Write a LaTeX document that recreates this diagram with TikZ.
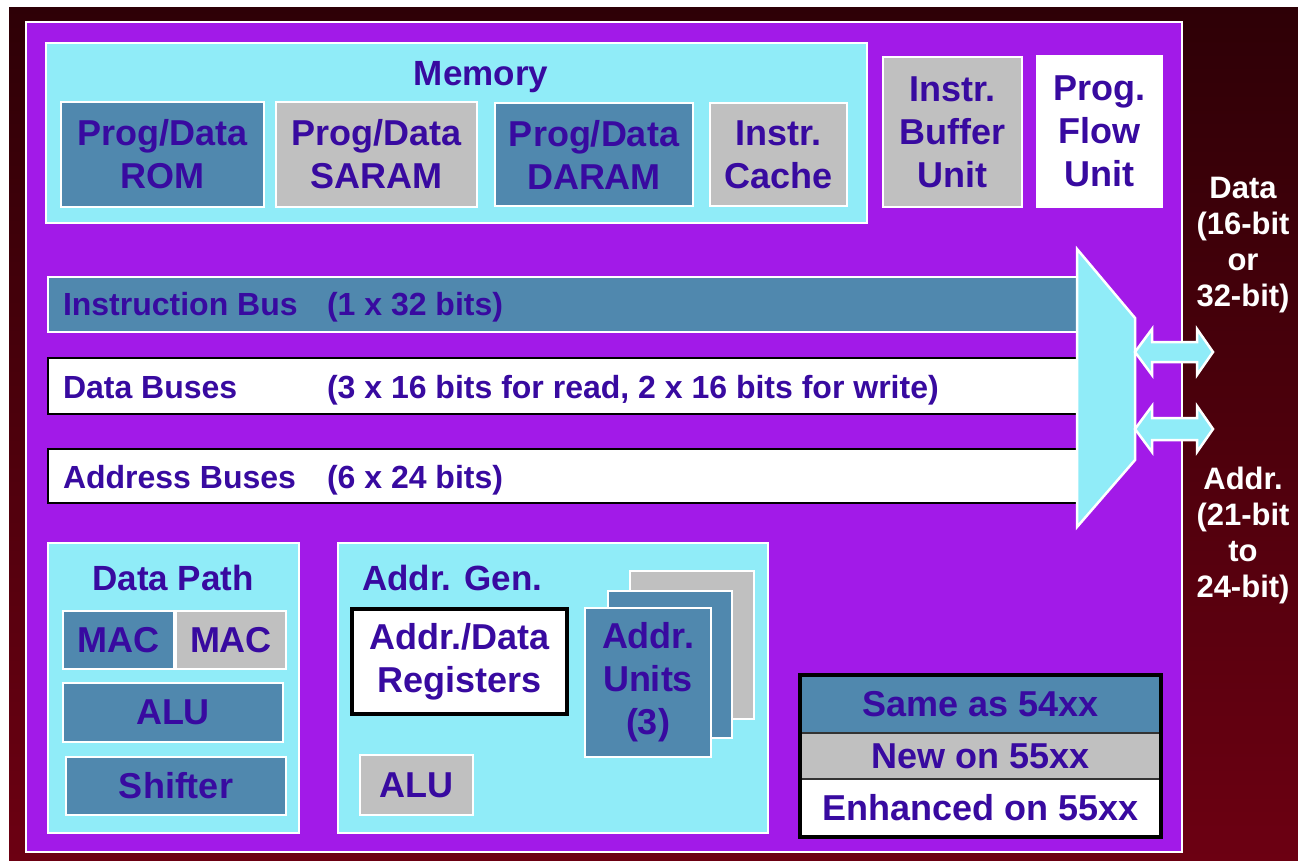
\documentclass[tikz,border=0pt]{standalone}
\usepackage{fontspec}
\setmainfont{Liberation Sans}
\usetikzlibrary{calc}
\definecolor{maroonA}{RGB}{46,0,6}
\definecolor{maroonB}{RGB}{108,0,18}
\definecolor{panel}{RGB}{162,26,232}
\definecolor{cyanL}{RGB}{144,236,248}
\definecolor{steel}{RGB}{80,136,174}
\definecolor{grayL}{RGB}{192,192,192}
\definecolor{ink}{RGB}{56,10,160}
\begin{document}
\begin{tikzpicture}[x=1pt,y=-1pt,
  every node/.style={inner sep=0pt, outer sep=0pt},
  blk/.style={draw=white, line width=2.5pt, anchor=north west, align=center, text=ink,
    font=\bfseries\fontsize{36}{43}\selectfont},
  steelbox/.style={blk, fill=steel},
  graybox/.style={blk, fill=grayL},
  whitebox/.style={blk, fill=white},
  regbox/.style={blk, fill=white, draw=black, line width=3.5pt},
  group/.style={draw=white, line width=2.5pt, fill=cyanL, anchor=north west},
  title/.style={text=ink, font=\bfseries\fontsize{35}{42}\selectfont},
  busbar/.style={anchor=north west, line width=2.5pt},
  bustext/.style={text=ink, font=\bfseries\fontsize{32}{38}\selectfont, anchor=base west},
  side/.style={text=white, font=\bfseries\fontsize{31}{36}\selectfont, align=center},
  legrow/.style={anchor=north west, draw=black!80, line width=1.5pt, text=ink,
    minimum width=361pt, font=\bfseries\fontsize{36}{43}\selectfont},
  fat/.style={fill=cyanL, draw=white, line width=2.5pt, line join=miter}
]
\useasboundingbox (0,0) rectangle (1298,860);
\fill[white] (0,0) rectangle (1298,860);
\shade[top color=maroonA, bottom color=maroonB] (9,7) rectangle (1298,860);

% main panel
\node[anchor=north west, fill=panel, draw=white, line width=2pt,
  minimum width=1156pt, minimum height=830pt] (panel) at (26,22) {};

% memory group
\node[group, minimum width=821pt, minimum height=180pt] (memory) at (46,43) {};
\node[title, anchor=base] (memt) at (481,85) {Memory};
\node[steelbox, minimum width=203pt, minimum height=105pt] (rom) at (61,102) {Prog/Data\\ROM};
\node[graybox, minimum width=201pt, minimum height=105pt] (saram) at (276,102) {Prog/Data\\SARAM};
\node[steelbox, minimum width=198pt, minimum height=103pt] (daram) at (495,103) {Prog/Data\\DARAM};
\node[graybox, minimum width=137pt, minimum height=103pt] (cache) at (710,103) {Instr.\\Cache};
\node[graybox, minimum width=139pt, minimum height=150pt] (ibu) at (883,57) {Instr.\\Buffer\\Unit};
\node[whitebox, minimum width=125pt, minimum height=151pt] (pfu) at (1037,56) {Prog.\\Flow\\Unit};

% buses
\node[busbar, fill=steel, draw=white, minimum width=1032pt, minimum height=55pt] (ibus) at (48,277) {};
\node[busbar, fill=white, draw=black, minimum width=1032pt, minimum height=56pt] (dbus) at (48,358) {};
\node[busbar, fill=white, draw=black, minimum width=1032pt, minimum height=54pt] (abus) at (48,449) {};
\node[bustext] (ibt1) at (63,315) {Instruction Bus};
\node[bustext] (ibt2) at (327,315) {(1 x 32 bits)};
\node[bustext] (dbt1) at (63,398) {Data Buses};
\node[bustext] (dbt2) at (327,398) {(3 x 16 bits for read, 2 x 16 bits for write)};
\node[bustext] (abt1) at (63,488) {Address Buses};
\node[bustext] (abt2) at (327,488) {(6 x 24 bits)};

% multiplexer
\coordinate (mA) at (1077,249);
\coordinate (mB) at (1135,318);
\coordinate (mC) at (1135,460);
\coordinate (mD) at (1077,527);
\draw[fat] (mA) -- (mB) -- (mC) -- (mD) -- cycle;

% external double arrows
\coordinate (dL) at (1135,352);
\coordinate (dR) at (1213,352);
\coordinate (aL) at (1135,429);
\coordinate (aR) at (1213,429);
\draw[fat] (dL) -- ++(17,-23) -- ++(0,13) -- ($(dR)+(-16,-10)$) -- ++(0,-13) -- (dR)
  -- ++(-16,23) -- ++(0,-13) -- ($(dL)+(17,10)$) -- ++(0,13) -- cycle;
\draw[fat] (aL) -- ++(17,-23) -- ++(0,12) -- ($(aR)+(-16,-11)$) -- ++(0,-12) -- (aR)
  -- ++(-16,23) -- ++(0,-12) -- ($(aL)+(17,11)$) -- ++(0,12) -- cycle;

\node[side] (dlab) at (1243,245) {Data\\(16-bit\\or\\32-bit)};
\node[side] (alab) at (1243,535) {Addr.\\(21-bit\\to\\24-bit)};

% data path
\node[group, minimum width=251pt, minimum height=290pt] (dpath) at (48,543) {};
\node[title, anchor=base] (dpt) at (173,590) {Data Path};
\node[steelbox, minimum width=111pt, minimum height=58pt] (mac1) at (63,611) {MAC};
\node[graybox, minimum width=110pt, minimum height=58pt] (mac2) at (176,611) {MAC};
\node[steelbox, minimum width=220pt, minimum height=59pt] (alu1) at (63,683) {ALU};
\node[steelbox, minimum width=220pt, minimum height=58pt] (shift) at (66,757) {Shifter};

% address generation
\node[group, minimum width=430pt, minimum height=290pt] (agen) at (338,543) {};
\node[title, anchor=base west] (agt) at (362,590) {Addr. Gen.};
\node[regbox, minimum width=215pt, minimum height=105pt] (regs) at (352,609) {Addr./Data\\Registers};
\node[graybox, minimum width=113pt, minimum height=60pt] (alu2) at (360,755) {ALU};
\node[graybox, minimum width=124pt, minimum height=148pt] (au3) at (630,571) {};
\node[steelbox, minimum width=124pt, minimum height=147pt] (au2) at (608,591) {};
\node[steelbox, minimum width=126pt, minimum height=149pt] (au1) at (585,608) {Addr.\\Units\\(3)};

% legend
\node[legrow, fill=steel, minimum height=58pt] (leg1) at (800,675) {Same as 54xx};
\node[legrow, fill=grayL, minimum height=46pt] (leg2) at (800,733) {New on 55xx};
\node[legrow, fill=white, minimum height=58pt] (leg3) at (800,779) {Enhanced on 55xx};
\draw[black, line width=3.5pt] (leg1.north west) rectangle (leg3.south east);
\end{tikzpicture}
\end{document}
